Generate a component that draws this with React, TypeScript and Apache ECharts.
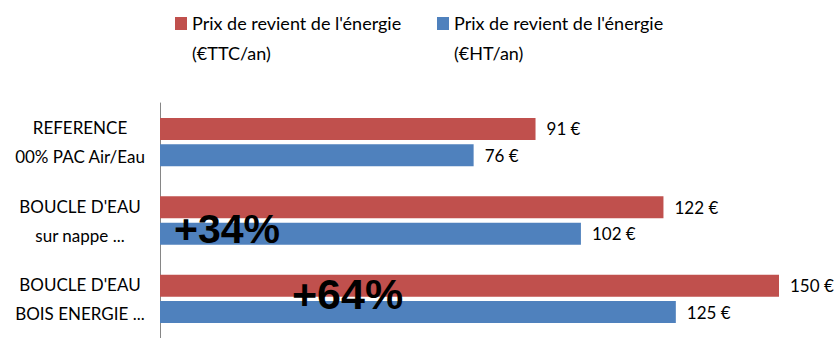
import React, { useEffect, useRef } from "react";
import * as echarts from "echarts";

// Energy cost per year for each heating solution
const categories = [
  "REFERENCE\n00% PAC Air/Eau",
  "BOUCLE D'EAU\nsur nappe ...",
  "BOUCLE D'EAU\nBOIS ENERGIE ...",
];
const seriesNames = [
  "Prix de revient de l'énergie\n(€TTC/an)",
  "Prix de revient de l'énergie\n(€HT/an)",
];
const costTTC = [91, 122, 150];
const costHT = [76, 102, 125];

const RED = "#C0504D";
const BLUE = "#4F81BD";
const FONT = "Lato, 'Liberation Sans', sans-serif";

// Increase of each solution over the reference, on the HT cost
const increases = costHT.map((v) => Math.round((v / costHT[0] - 1) * 100));

export default function App() {
  const ref = useRef<HTMLDivElement>(null);

  useEffect(() => {
    if (!ref.current) return;
    const chart = echarts.init(ref.current, undefined, { renderer: "svg" });

    const legendItem = (x: number, color: string, text: string) => [
      {
        type: "rect",
        left: x,
        top: 17,
        shape: { width: 12, height: 13 },
        style: { fill: color },
      },
      {
        type: "text",
        left: x + 17,
        top: 8,
        style: {
          text,
          fill: "#000",
          font: `18px ${FONT}`,
          lineHeight: 30,
        },
      },
    ];

    const bigText = (x: number, y: number, size: number, text: string) => ({
      type: "text",
      left: x,
      top: y,
      z: 100,
      style: {
        text,
        fill: "#000",
        font: `bold ${size}px 'Liberation Sans', Arial, sans-serif`,
      },
    });

    const valueLabel = {
      show: true,
      position: "right",
      distance: 11,
      formatter: "{c} €",
      color: "#000",
      fontFamily: FONT,
      fontSize: 17,
    };

    chart.setOption({
      animation: false,
      grid: { left: 160, top: 103, width: 619, height: 246 },
      xAxis: {
        type: "value",
        min: 0,
        max: 150,
        show: false,
      },
      yAxis: {
        type: "category",
        data: categories,
        inverse: true,
        axisLine: { show: true, lineStyle: { color: "#868686", width: 1 } },
        axisTick: { show: false },
        axisLabel: {
          color: "#000",
          fontFamily: FONT,
          fontSize: 17,
          lineHeight: 29,
          align: "center",
          margin: 80,
        },
      },
      series: [
        {
          name: seriesNames[0],
          type: "bar",
          data: costTTC,
          barWidth: 22,
          barGap: "20%",
          itemStyle: { color: RED },
          label: valueLabel,
        },
        {
          name: seriesNames[1],
          type: "bar",
          data: costHT,
          barWidth: 22,
          barGap: "20%",
          itemStyle: { color: BLUE },
          label: valueLabel,
        },
      ],
      graphic: [
        ...legendItem(175, RED, seriesNames[0]),
        ...legendItem(437, BLUE, seriesNames[1]),
        bigText(174, 208, 41, `+${increases[1]}%`),
        bigText(292, 272, 43, `+${increases[2]}%`),
      ],
    });

    return () => chart.dispose();
  }, []);

  return (
    <div
      ref={ref}
      style={{ position: "absolute", left: 0, top: 0, width: 837, height: 338 }}
    />
  );
}
